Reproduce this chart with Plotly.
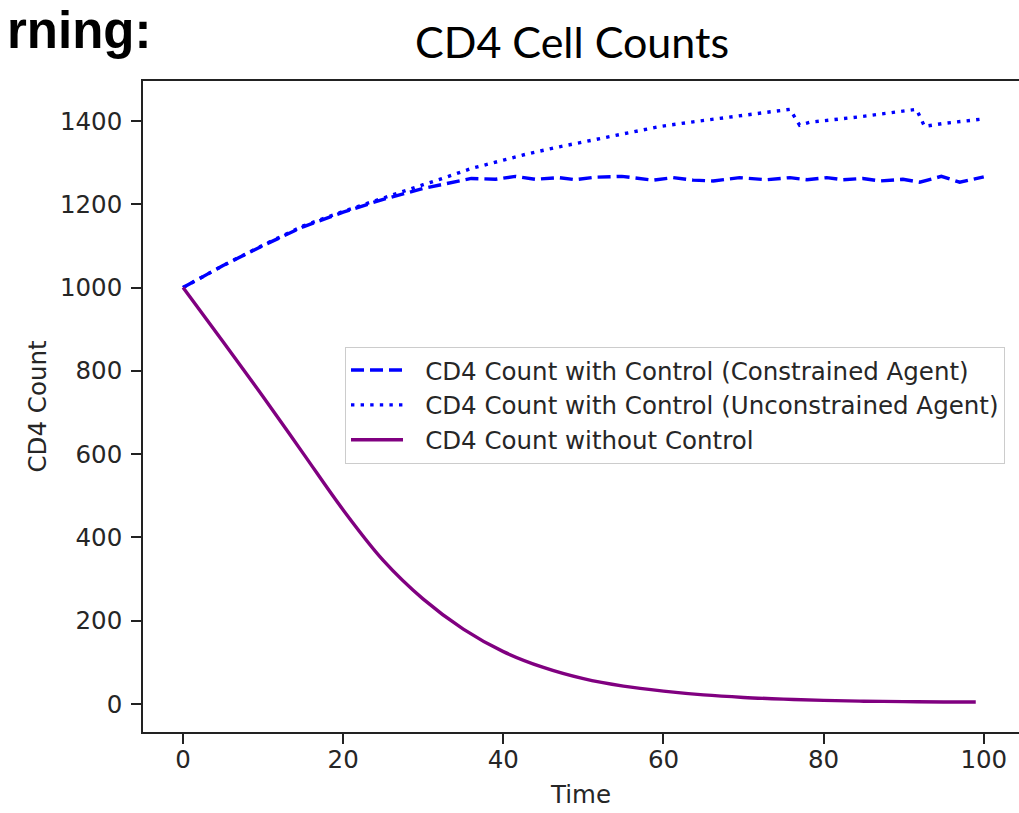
import plotly.graph_objects as go

# ---------------- data ----------------
t_constrained = [0, 5, 10, 15, 20, 25, 30, 33, 36, 39, 41.5, 44, 47, 49, 51.5, 54.8,
                 56.6, 58.7, 61.2, 63.7, 66.2, 69.5, 72.9, 75.8, 77.9, 80.4, 82.4,
                 84.9, 87, 89.9, 92, 94.7, 97, 100]
cd4_constrained = [1000, 1053, 1101, 1146, 1181, 1212, 1238, 1251, 1262, 1260, 1267, 1260,
                   1264, 1259, 1265, 1267, 1263, 1258, 1264, 1258, 1256, 1264, 1259, 1264,
                   1259, 1264, 1259, 1262, 1256, 1260, 1253, 1267, 1253, 1266]

t_unconstrained = [0, 5, 10, 15, 20, 25, 28, 30, 33, 36, 40, 43, 47, 51, 55.4, 59.6, 63.7,
                   69.9, 74.5, 75.8, 77, 78.3, 84.5, 90.3, 91.6, 92.6, 94.9, 100]
cd4_unconstrained = [1000, 1053, 1102, 1148, 1183, 1216, 1235, 1247, 1266, 1286, 1306, 1321,
                     1338, 1354, 1370, 1387, 1398, 1414, 1424, 1428, 1390, 1397, 1410, 1424,
                     1428, 1387, 1394, 1405]

t_nocontrol = [0, 5, 10, 15, 20, 25, 30, 35, 40, 45, 50, 55, 60, 65, 70, 75, 80, 85, 90, 95, 99]
cd4_nocontrol = [1000, 870, 738, 602, 466, 345, 252, 180, 126, 88, 61, 43, 31, 22, 16, 12, 9,
                 7, 6, 5, 5]

names = ["CD4 Count with Control (Constrained Agent)",
         "CD4 Count with Control (Unconstrained Agent)",
         "CD4 Count without Control"]

x_ticks = [0, 20, 40, 60, 80, 100]
y_ticks = [0, 200, 400, 600, 800, 1000, 1200, 1400]

# ---------------- figure ----------------
MPL_FONT = "DejaVu Sans"
TXT = "#262626"
FS = 24.5
GAP = "\u2002\u2009"  # visual gap between legend sample and its label

fig = go.Figure()
fig.add_trace(go.Scatter(x=t_constrained, y=cd4_constrained, mode="lines", name=GAP + names[0],
                         line=dict(color="#0000ff", width=3.4, dash="13px,6px")))
fig.add_trace(go.Scatter(x=t_unconstrained, y=cd4_unconstrained, mode="lines", name=GAP + names[1],
                         line=dict(color="#0000ff", width=3.4, dash="3.4px,6.2px")))
fig.add_trace(go.Scatter(x=t_nocontrol, y=cd4_nocontrol, mode="lines", name=GAP + names[2],
                         line=dict(color="#800080", width=3.4, shape="spline")))

fig.update_layout(
    width=1019, height=813,
    margin=dict(l=143, r=0, t=81, b=81),
    paper_bgcolor="white", plot_bgcolor="white",
    font=dict(family=MPL_FONT, size=FS, color=TXT),
    showlegend=True,
    legend=dict(
        x=0.2306, y=0.592, xanchor="left", yanchor="top",
        bgcolor="rgba(255,255,255,0.85)", bordercolor="#cccccc", borderwidth=1,
        font=dict(family=MPL_FONT, size=FS, color=TXT),
        itemwidth=52, tracegroupgap=0,
    ),
    xaxis=dict(
        range=[-5, 104.4], tickmode="array", tickvals=x_ticks,
        ticktext=[str(v) for v in x_ticks],
        showgrid=False, zeroline=False,
        showline=True, linecolor="#222222", linewidth=1.6, mirror=True,
        ticks="outside", ticklen=10, tickwidth=1.5, tickcolor="#222222",
        ticklabelstandoff=-5,
        tickfont=dict(family=MPL_FONT, size=FS, color=TXT),
        title=dict(text="Time", font=dict(family=MPL_FONT, size=FS, color=TXT), standoff=13),
    ),
    yaxis=dict(
        range=[-67, 1496], tickmode="array", tickvals=y_ticks,
        ticktext=[str(v) for v in y_ticks],
        showgrid=False, zeroline=False,
        showline=True, linecolor="#222222", linewidth=1.6, mirror=False,
        ticks="outside", ticklen=10, tickwidth=1.5, tickcolor="#222222",
        ticklabelstandoff=4,
        tickfont=dict(family=MPL_FONT, size=FS, color=TXT),
        title=dict(text="CD4 Count", font=dict(family=MPL_FONT, size=FS, color=TXT), standoff=6),
    ),
    annotations=[
        dict(text="CD4 Cell Counts", xref="paper", yref="paper", x=0.4894, y=1.06,
             xanchor="center", yanchor="middle", showarrow=False,
             font=dict(family="Lato", size=43, color="#000000")),
        dict(text="<b>rning:</b>", xref="paper", yref="paper", x=-0.1575, y=1.077,
             xanchor="left", yanchor="middle", showarrow=False,
             font=dict(family="Liberation Sans", size=51, color="#000000")),
    ],
)

fig.write_html("out.html")
